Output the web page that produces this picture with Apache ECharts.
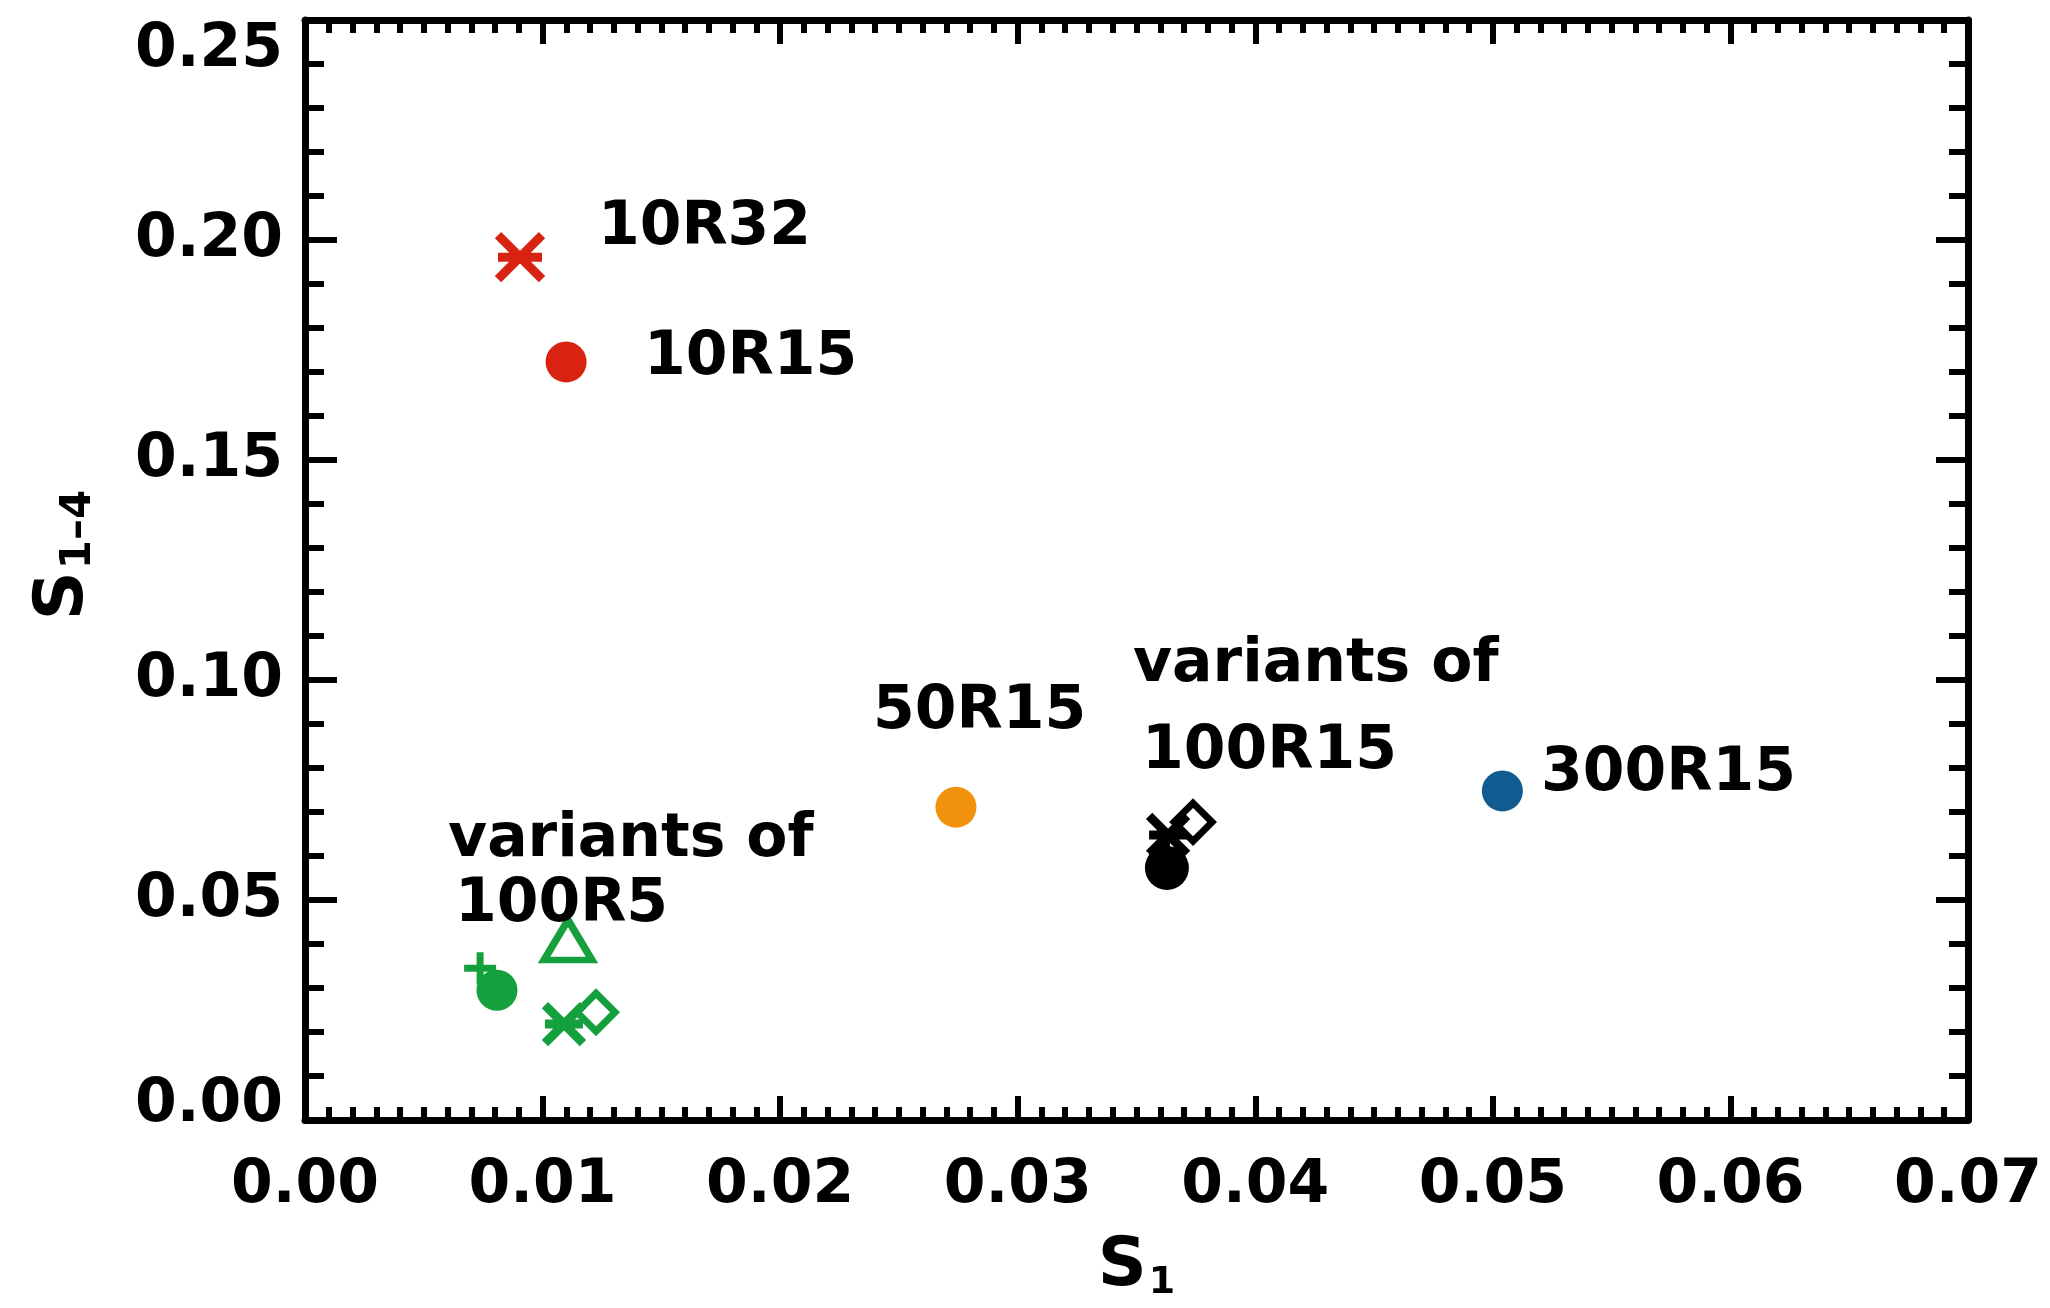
<!DOCTYPE html>
<html>
<head>
<meta charset="utf-8">
<script src="https://cdn.jsdelivr.net/npm/echarts@6/dist/echarts.min.js"></script>
<style>
html,body{margin:0;padding:0;background:#ffffff;}
#chart{width:2050px;height:1308px;}
</style>
</head>
<body>
<div id="chart"></div>
<script>
// ---------- axes ----------
const xMin = 0, xMax = 0.07, xStep = 0.01;
const yMin = 0, yMax = 0.25, yStep = 0.05;

// ---------- data (S1, S1-4) ----------
const run10R32 = [[0.00905, 0.1961]];
const run10R15 = [[0.01099, 0.1723]];
const run50R15 = [[0.0274, 0.0711]];
const run300R15 = [[0.0504, 0.0748]];

// variants of 100R5 (green)
const v100R5Plus     = [[0.00737, 0.0345]];
const v100R5Circle   = [[0.00808, 0.0295]];
const v100R5Triangle = [[0.01107, 0.0409]];
const v100R5Asterisk = [[0.0109, 0.0218]];
const v100R5Diamond  = [[0.01225, 0.0245]];

// variants of 100R15 (black)
const v100R15Plus     = [[0.03624, 0.0602]];
const v100R15Circle   = [[0.03628, 0.0573]];
const v100R15Asterisk = [[0.03633, 0.0648]];
const v100R15Diamond  = [[0.03738, 0.0677]];

// ---------- annotations ----------
const annText = ['10R32', '10R15', '50R15', 'variants of', '100R15', '300R15', 'variants of', '100R5'];
const annX    = [0.01233, 0.01427, 0.02391, 0.03485, 0.03523, 0.05203, 0.00602, 0.00631];
const annY    = [0.2027, 0.1732, 0.0927, 0.1034, 0.0836, 0.0786, 0.0636, 0.0488];

// ---------- colours ----------
const RED = '#d7230f', ORANGE = '#f0920c', BLUE = '#105b8f', GREEN = '#14a03c', BLACK = '#000000';

const FONT = 'DejaVu Sans';
const SYM_AST = 'path://M0,0L10,10M10,0L0,10M0,5L10,5';
const SYM_PLUS = 'path://M0,5L10,5M5,0L5,10';
const SYM_TRI = 'path://M5,0L10,8.66L0,8.66Z';
const SYM_DIA = 'path://M5,0L10,5L5,10L0,5Z';

function filledCircle(data, color, size) {
  return {type:'scatter', data, symbol:'circle', symbolSize:size || 41,
    itemStyle:{color, opacity:1}, z:3};
}
function strokeSym(data, color, symbol, size, width, z) {
  return {type:'scatter', data, symbol, symbolSize:size,
    itemStyle:{color:'rgba(0,0,0,0)', borderColor:color, borderWidth:width, borderCap:'butt', opacity:1}, z:z||4};
}

const labelStyle = {fontFamily:FONT, fontWeight:'bold', fontSize:60, color:'#000'};

function xAxisDef(pos, showLabel) {
  return {
    type:'value', position:pos, min:xMin, max:xMax, interval:xStep,
    axisLine:{show:true, onZero:false, lineStyle:{color:'#000', width:7}},
    axisTick:{show:true, inside:true, length:24, lineStyle:{color:'#000', width:6}},
    minorTick:{show:true, splitNumber:10, length:13, lineStyle:{color:'#000', width:6}},
    splitLine:{show:false}, minorSplitLine:{show:false},
    axisLabel: showLabel ? Object.assign({show:true, margin:36, formatter:v=>v.toFixed(2)}, labelStyle) : {show:false},
    name: showLabel ? '{s|S}{b|1}' : '',
    nameLocation:'middle', nameGap:112,
    nameTextStyle:{rich:{
      s:{fontFamily:FONT, fontWeight:'bold', fontSize:68, color:'#000'},
      b:{fontFamily:FONT, fontWeight:'bold', fontSize:38, color:'#000', padding:[32,0,0,2]}
    }}
  };
}
function yAxisDef(pos, showLabel) {
  return {
    type:'value', position:pos, min:yMin, max:yMax, interval:yStep,
    axisLine:{show:true, onZero:false, lineStyle:{color:'#000', width:7}},
    axisTick:{show:true, inside:true, length:32, lineStyle:{color:'#000', width:6}},
    minorTick:{show:true, splitNumber:5, length:19, lineStyle:{color:'#000', width:6}},
    splitLine:{show:false}, minorSplitLine:{show:false},
    axisLabel: showLabel ? Object.assign({show:true, margin:22,
       formatter:v => (v === yMin ? '{lo|' + v.toFixed(2) + '}' : v.toFixed(2)),
       verticalAlignMaxLabel:'top',
       rich:{lo:{fontFamily:FONT, fontWeight:'bold', fontSize:60, color:'#000', padding:[0,0,30,0]}}
     }, labelStyle) : {show:false},
    name: showLabel ? '{s|S}{b|1–4}' : '',
    nameLocation:'middle', nameRotate:90, nameGap:205,
    nameTextStyle:{padding:[0,0,0,30], rich:{
      s:{fontFamily:FONT, fontWeight:'bold', fontSize:68, color:'#000'},
      b:{fontFamily:FONT, fontWeight:'bold', fontSize:42, color:'#000', padding:[30,0,0,2]}
    }}
  };
}

const chart = echarts.init(document.getElementById('chart'), null, {renderer:'canvas'});
chart.setOption({
  animation:false,
  backgroundColor:'#ffffff',
  grid:{left:305, right:82, top:20, bottom:188, containLabel:false},
  xAxis:[xAxisDef('bottom', true), xAxisDef('top', false)],
  yAxis:[yAxisDef('left', true), yAxisDef('right', false)],
  series:[
    strokeSym(run10R32, RED, SYM_AST, 44, 9),
    filledCircle(run10R15, RED),
    filledCircle(run50R15, ORANGE),
    filledCircle(run300R15, BLUE),

    strokeSym(v100R5Plus, GREEN, SYM_PLUS, 32, 7),
    filledCircle(v100R5Circle, GREEN),
    strokeSym(v100R5Triangle, GREEN, SYM_TRI, [48, 40], 7),
    strokeSym(v100R5Asterisk, GREEN, SYM_AST, 38, 9),
    strokeSym(v100R5Diamond, GREEN, SYM_DIA, 38, 7),

    strokeSym(v100R15Plus, BLACK, SYM_PLUS, 34, 8),
    filledCircle(v100R15Circle, BLACK, 44),
    strokeSym(v100R15Asterisk, BLACK, SYM_AST, 38, 9),
    strokeSym(v100R15Diamond, BLACK, SYM_DIA, 38, 7),

    {
      type:'scatter', silent:true, z:6,
      data: annX.map((x, i) => [x, annY[i], annText[i]]),
      symbolSize:0,
      itemStyle:{color:'#000', opacity:1},
      label:{show:true, position:'right', distance:0, opacity:1,
        formatter:p => p.value[2],
        fontFamily:FONT, fontWeight:'bold', fontSize:60, color:'#000'}
    }
  ]
});
</script>
</body>
</html>
